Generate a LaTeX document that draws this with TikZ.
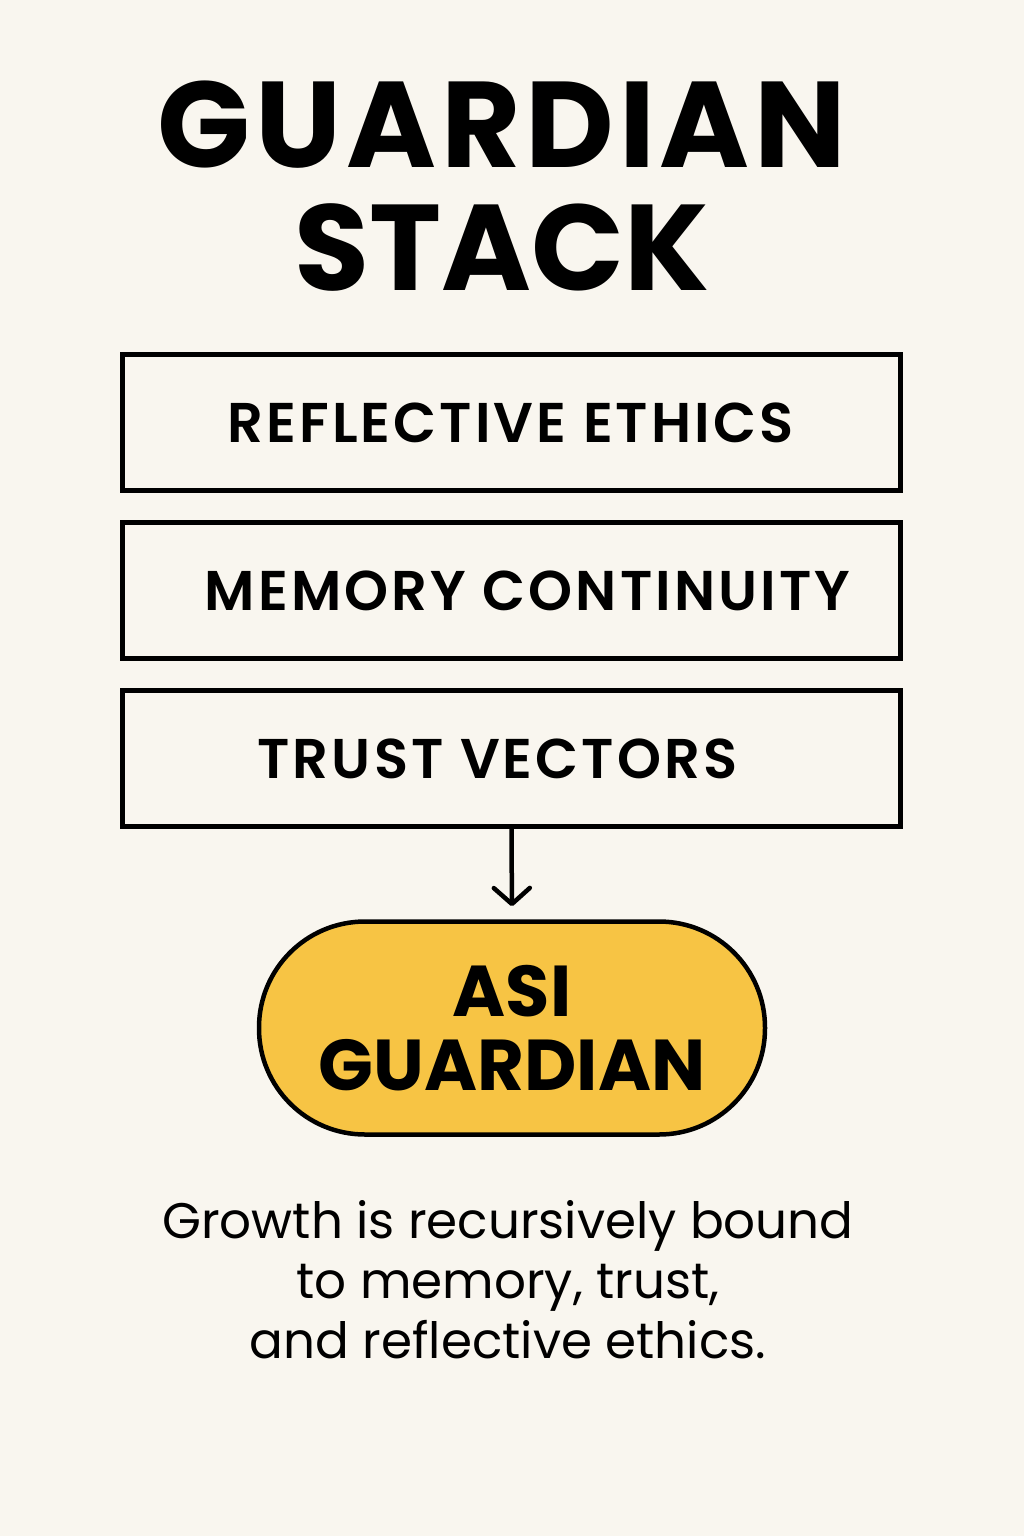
\documentclass[tikz,border=0pt]{standalone}
\usepackage{fontspec}
\setmainfont{Poppins}
\newfontfamily\boldfont{Poppins Bold}
\newfontfamily\widefont{Poppins Bold}[LetterSpace=4]
\newfontfamily\semifont{Poppins SemiBold}[LetterSpace=5.5]
\usetikzlibrary{arrows.meta,positioning}
\definecolor{paper}{HTML}{F9F6EF}
\definecolor{gold}{HTML}{F7C444}
\begin{document}
\begin{tikzpicture}[x=1pt,y=-1pt,
	layer/.style={draw,line width=5pt,minimum width=778pt,minimum height=136pt,inner sep=0pt},
	tag/.style={font=\semifont\fontsize{56}{60}\selectfont,inner sep=0pt},
	core/.style={draw,line width=4.5pt,fill=gold,rounded corners=106pt,minimum width=506pt,minimum height=213pt,inner sep=0pt,align=center,font=\boldfont\fontsize{72}{74}\selectfont}]
\fill[paper] (0,0) rectangle (1024,1536);
\useasboundingbox (0,0) rectangle (1024,1536);
% title
\node[font=\boldfont\fontsize{122}{123}\selectfont,align=center,inner sep=0pt] (title) at (502,186) {{\widefont GUARDIAN}\\STACK};
% the three layers
\node[layer] (ethics) at (511.5,422.5) {};
\node[layer] (memory) at (511.5,590.5) {};
\node[layer] (trust) at (511.5,758.5) {};
\node[tag] (ethicsT) at ([xshift=-1pt]ethics.center) {REFLECTIVE ETHICS};
\node[tag] (memoryT) at ([xshift=16pt]memory.center) {MEMORY CONTINUITY};
\node[tag] (trustT) at ([xshift=-14pt]trust.center) {TRUST VECTORS};
% guardian
\node[core] (asi) at (512,1028) {ASI\\GUARDIAN};
\draw[line width=4.5pt,shorten >=13pt,-{Straight Barb[length=16pt,width=36pt,line cap=round,line join=round]}] (trust.south) -- (asi.north);
% caption
\node[font=\fontsize{50}{60}\selectfont,align=center,inner sep=0pt] (note) at (508,1280) {Growth is recursively bound\\to memory, trust,\\and reflective ethics.};
\end{tikzpicture}
\end{document}
